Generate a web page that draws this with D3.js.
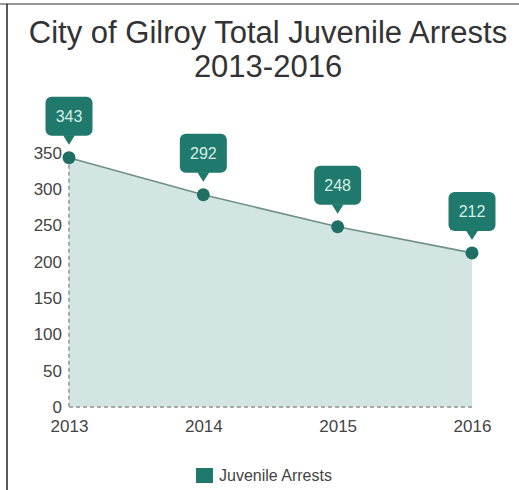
<!DOCTYPE html>
<html>
<head>
<meta charset="utf-8">
<script src="https://cdn.jsdelivr.net/npm/d3@7"></script>
<style>
  body { margin: 0; background: #fff; }
  svg { display: block; font-family: "Liberation Sans", Arial, sans-serif; }
</style>
</head>
<body>
<script>
'use strict';

// chart data
var years = ["2013", "2014", "2015", "2016"];
var arrests = [343, 292, 248, 212];
var yTicks = [0, 50, 100, 150, 200, 250, 300, 350];
var titleLines = ["City of Gilroy Total Juvenile Arrests", "2013-2016"];
var seriesName = "Juvenile Arrests";

var W = 519, H = 490;
var margin = {top: 152.6, left: 69, right: 47, bottom: 83};

var svg = d3.select("body").append("svg")
    .attr("width", W)
    .attr("height", H);

// frame edges from the screenshot
svg.append("line").attr("x1", 0).attr("x2", W).attr("y1", 4).attr("y2", 4)
    .attr("stroke", "#777").attr("stroke-width", 1.5);
svg.append("line").attr("x1", 7).attr("x2", 7).attr("y1", 4).attr("y2", H)
    .attr("stroke", "#222").attr("stroke-width", 1.5);

// title
svg.append("g").selectAll("text")
    .data(titleLines)
    .enter().append("text")
    .attr("x", 268)
    .attr("y", function(d, i) { return 43 + i * 34; })
    .attr("text-anchor", "middle")
    .attr("font-size", 31)
    .attr("fill", "#333")
    .text(function(d) { return d; });

var xScale = d3.scalePoint()
    .domain(years)
    .range([margin.left, W - margin.right]);

var yScale = d3.scaleLinear()
    .domain([0, 350])
    .range([H - margin.bottom, margin.top]);

var data = years.map(function(y, i) { return {year: y, value: arrests[i]}; });

// area fill
var area = d3.area()
    .x(function(d) { return xScale(d.year); })
    .y0(yScale(0))
    .y1(function(d) { return yScale(d.value); });

svg.append("path")
    .datum(data)
    .attr("d", area)
    .attr("fill", "#d2e5e2");

// dashed base lines
svg.append("line")
    .attr("x1", xScale(years[0])).attr("x2", xScale(years[0]))
    .attr("y1", yScale(arrests[0])).attr("y2", yScale(0))
    .attr("stroke", "#a9a9a9").attr("stroke-width", 2)
    .attr("stroke-dasharray", "4,3");
svg.append("line")
    .attr("x1", xScale(years[0])).attr("x2", xScale(years[years.length - 1]))
    .attr("y1", yScale(0)).attr("y2", yScale(0))
    .attr("stroke", "#a9a9a9").attr("stroke-width", 2)
    .attr("stroke-dasharray", "4,3");

// line on top
var line = d3.line()
    .x(function(d) { return xScale(d.year); })
    .y(function(d) { return yScale(d.value); });

svg.append("path")
    .datum(data)
    .attr("d", line)
    .attr("fill", "none")
    .attr("stroke", "#6f8f89")
    .attr("stroke-width", 1.6);

// y axis
var yAxis = svg.append("g")
    .attr("transform", "translate(" + margin.left + ",0)")
    .call(d3.axisLeft(yScale).tickValues(yTicks).tickSize(0).tickPadding(7));
yAxis.select(".domain").remove();
yAxis.selectAll("text")
    .attr("font-size", 17)
    .attr("font-family", "Liberation Sans, Arial, sans-serif")
    .attr("fill", "#444");

// x axis
var xAxis = svg.append("g")
    .attr("transform", "translate(0," + yScale(0) + ")")
    .call(d3.axisBottom(xScale).tickSize(0).tickPadding(13));
xAxis.select(".domain").remove();
xAxis.selectAll("text")
    .attr("font-size", 17)
    .attr("font-family", "Liberation Sans, Arial, sans-serif")
    .attr("fill", "#444");

// points
svg.append("g").selectAll("circle")
    .data(data)
    .enter().append("circle")
    .attr("cx", function(d) { return xScale(d.year); })
    .attr("cy", function(d) { return yScale(d.value); })
    .attr("r", 6.5)
    .attr("fill", "#1f6f64");

// callout labels
var bw = 47, bh = 39;
var callouts = svg.append("g").selectAll("g")
    .data(data)
    .enter().append("g")
    .attr("transform", function(d) {
        return "translate(" + xScale(d.year) + "," + yScale(d.value) + ")";
    });

callouts.append("rect")
    .attr("x", -bw / 2)
    .attr("y", -22 - bh)
    .attr("width", bw)
    .attr("height", bh)
    .attr("rx", 6)
    .attr("fill", "#1f7a6d");

callouts.append("path")
    .attr("d", "M-6,-22.5 L6,-22.5 L0,-13 Z")
    .attr("fill", "#1f7a6d");

callouts.append("text")
    .attr("y", -22 - bh / 2)
    .attr("dy", "0.35em")
    .attr("text-anchor", "middle")
    .attr("font-size", 16)
    .attr("fill", "#d6eee8")
    .text(function(d) { return d.value; });

// legend
var legend = svg.append("g");
legend.append("rect")
    .attr("x", 196).attr("y", 468)
    .attr("width", 17).attr("height", 15)
    .attr("fill", "#1f7a6d");
legend.append("text")
    .attr("x", 219).attr("y", 481)
    .attr("font-size", 16)
    .attr("fill", "#444")
    .text(seriesName);
</script>
</body>
</html>
